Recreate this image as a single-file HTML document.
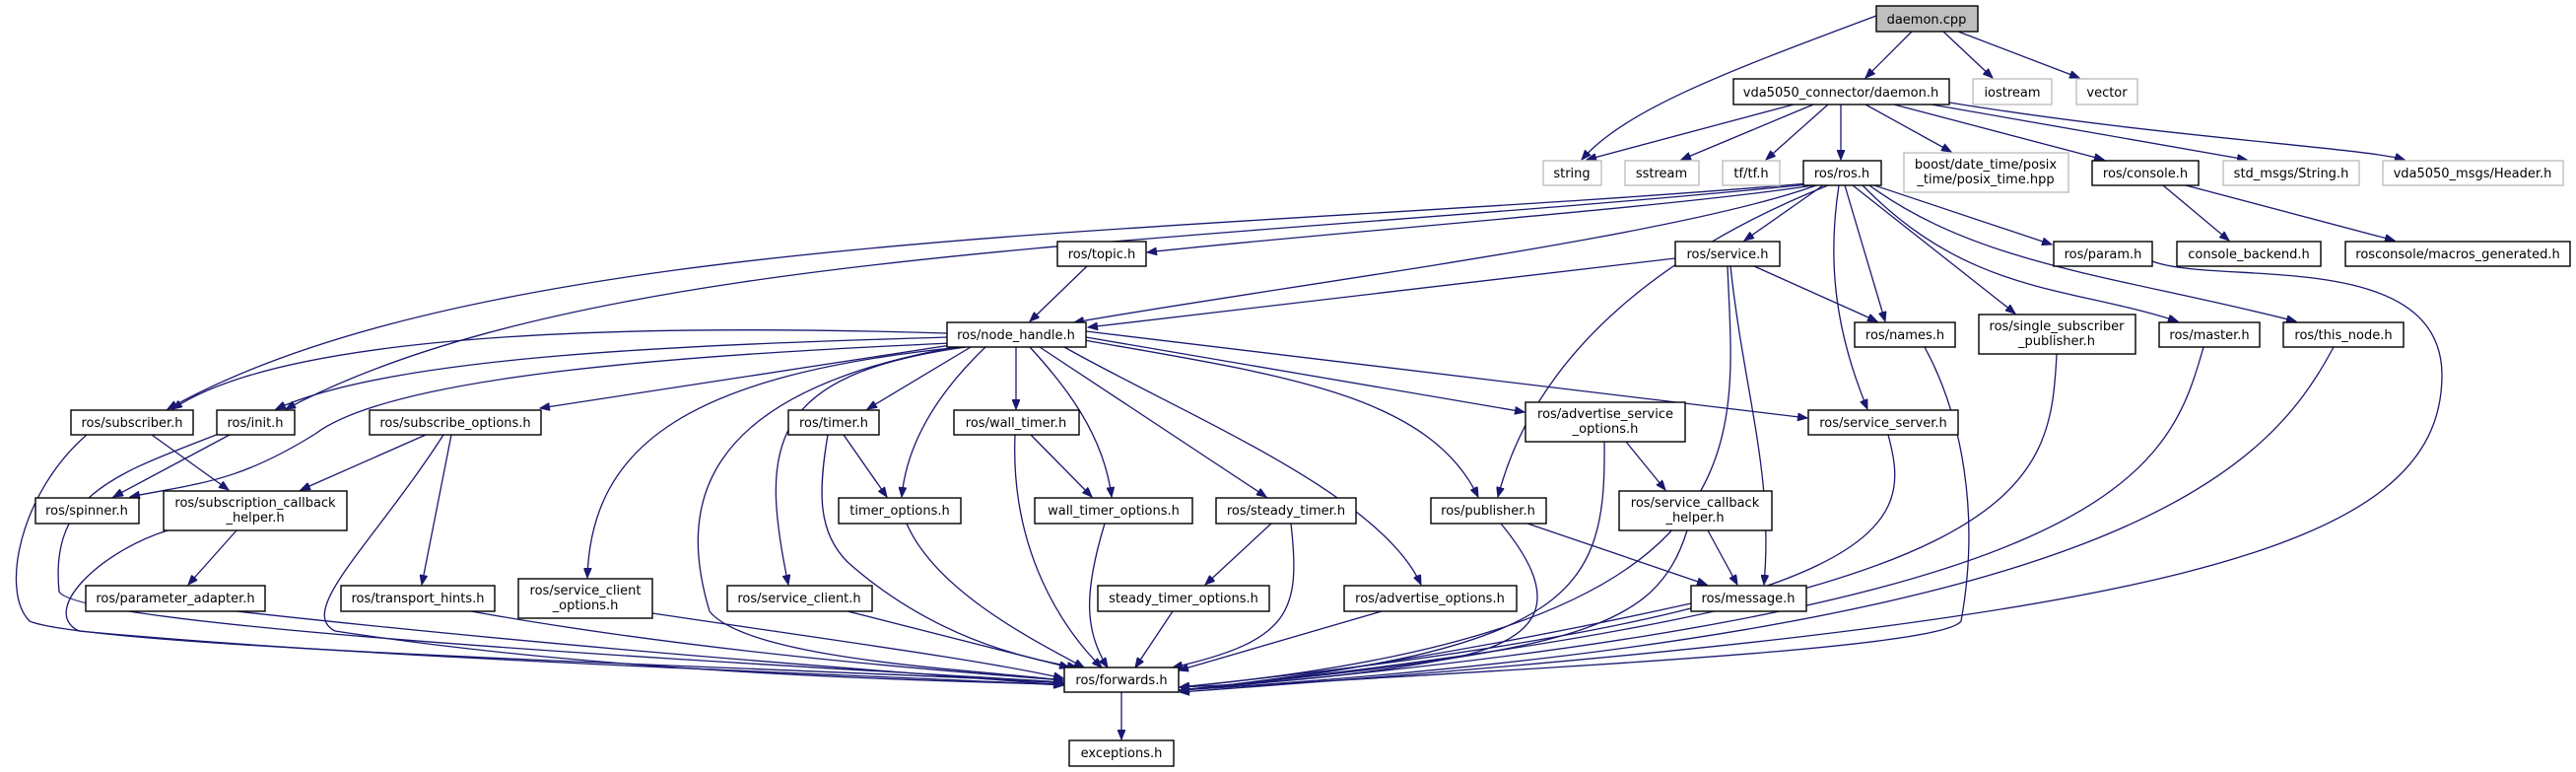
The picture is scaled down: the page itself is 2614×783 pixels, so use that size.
<!DOCTYPE html>
<html><head><meta charset="utf-8"><style>
html,body{margin:0;padding:0;background:#fff;width:2614px;height:783px;overflow:hidden}
svg{display:block}
text{font-family:"DejaVu Sans","Liberation Sans",sans-serif;font-size:13px;text-anchor:middle;fill:#000}
.e{fill:none;stroke:#191970;stroke-width:1.3;marker-end:url(#a)}
.n{fill:#fff;stroke:#000;stroke-width:1.4}
.g{fill:#fff;stroke:#bfbfbf;stroke-width:1.4}
</style></head><body>
<svg width="2614" height="783" viewBox="0 0 2614 783" xmlns="http://www.w3.org/2000/svg">
<defs><marker id="a" markerUnits="userSpaceOnUse" markerWidth="11" markerHeight="8" refX="10" refY="4" orient="auto"><path d="M0,0 L10,4 L0,8 z" fill="#191970" stroke="#191970"/></marker></defs>
<g>
<path class="e" d="M1904,16 C1760,70 1650,110 1605,162"/>
<path class="e" d="M1940,32 L1893,79"/>
<path class="e" d="M1972,32 L2022,79"/>
<path class="e" d="M1987,32 L2110,79"/>
<path class="e" d="M1820,106 L1610,162"/>
<path class="e" d="M1840,106 L1706,162"/>
<path class="e" d="M1855,106 L1792,162"/>
<path class="e" d="M1868,106 L1868,162"/>
<path class="e" d="M1893,106 L1980,154"/>
<path class="e" d="M1922,106 L2135,162"/>
<path class="e" d="M1960,106 L2280,162"/>
<path class="e" d="M1978,104 C2200,140 2400,150 2440,162"/>
<path class="e" d="M1840,188 C1700,210 1300,240 1164,256"/>
<path class="e" d="M1843,188 C1700,240 1300,290 1090,327"/>
<path class="e" d="M1850,188 L1770,244"/>
<path class="e" d="M1835,186 C1200,240 500,230 170,415"/>
<path class="e" d="M1836,187 C1200,250 600,250 290,415"/>
<path class="e" d="M1855,188 C1700,250 1560,350 1520,504"/>
<path class="e" d="M1872,188 L1913,326"/>
<path class="e" d="M1880,188 L2045,318"/>
<path class="e" d="M1890,188 C2000,300 2100,290 2210,326"/>
<path class="e" d="M1897,188 C2010,270 2150,280 2330,326"/>
<path class="e" d="M1902,188 L2082,248"/>
<path class="e" d="M1866,188 C1855,260 1860,330 1895,415"/>
<path class="e" d="M1700,262 L1104,332"/>
<path class="e" d="M1780,270 L1905,326"/>
<path class="e" d="M1756,270 C1770,400 1800,480 1790,593"/>
<path class="e" d="M1753,270 C1760,450 1800,640 1197,697"/>
<path class="e" d="M1103,270 L1045,326"/>
<path class="e" d="M2195,188 L2262,244"/>
<path class="e" d="M2218,188 L2430,244"/>
<path class="e" d="M2184,265 C2250,290 2477,250 2478,380 C2478,560 2200,630 1197,702"/>
<path class="e" d="M1953,352 C1990,420 2010,520 1990,630 C1970,660 1500,680 1197,700"/>
<path class="e" d="M2087,359 C2080,500 2060,610 1197,700"/>
<path class="e" d="M2236,352 C2200,480 2150,620 1197,700"/>
<path class="e" d="M2368,352 C2300,480 2150,640 1197,700"/>
<path class="e" d="M1916,441 C1940,530 1940,620 1197,697"/>
<path class="e" d="M961,338 C700,330 300,330 175,415"/>
<path class="e" d="M962,342 C700,350 400,360 280,415"/>
<path class="e" d="M965,348 C700,360 400,380 320,440 C240,490 200,490 132,504"/>
<path class="e" d="M965,350 L548,414"/>
<path class="e" d="M985,352 L880,415"/>
<path class="e" d="M1031,352 L1031,415"/>
<path class="e" d="M1045,352 C1080,390 1120,440 1128,504"/>
<path class="e" d="M1000,352 C950,400 920,450 915,504"/>
<path class="e" d="M1055,352 L1285,504"/>
<path class="e" d="M975,352 C700,380 600,450 596,586"/>
<path class="e" d="M980,352 C780,380 770,450 800,593"/>
<path class="e" d="M970,352 C700,400 690,520 720,620 C760,670 1000,680 1079,690"/>
<path class="e" d="M1080,352 C1200,420 1400,500 1442,593"/>
<path class="e" d="M1100,345 C1300,380 1450,400 1500,504"/>
<path class="e" d="M1102,342 L1547,418"/>
<path class="e" d="M1102,336 L1834,424"/>
<path class="e" d="M154,441 L232,497"/>
<path class="e" d="M88,441 C20,500 0,600 30,630 C100,660 900,680 1079,693"/>
<path class="e" d="M233,441 L115,504"/>
<path class="e" d="M222,440 C120,480 50,500 60,600 C80,640 900,680 1079,692"/>
<path class="e" d="M432,441 L305,497"/>
<path class="e" d="M458,441 L428,593"/>
<path class="e" d="M450,441 C380,550 300,620 340,640 C600,680 900,690 1079,694"/>
<path class="e" d="M240,538 L191,593"/>
<path class="e" d="M170,538 C100,560 40,620 80,640 C400,670 900,685 1079,695"/>
<path class="e" d="M240,620 C600,660 900,680 1079,695"/>
<path class="e" d="M478,620 C700,660 950,680 1079,690"/>
<path class="e" d="M662,622 C850,650 1000,670 1079,688"/>
<path class="e" d="M860,620 L1085,677"/>
<path class="e" d="M856,441 L900,504"/>
<path class="e" d="M840,441 C830,500 830,540 860,570 C950,650 1050,670 1093,677"/>
<path class="e" d="M920,531 C950,600 1050,650 1100,677"/>
<path class="e" d="M1030,441 C1025,560 1080,640 1118,677"/>
<path class="e" d="M1046,441 L1108,504"/>
<path class="e" d="M1121,531 C1100,600 1100,640 1124,677"/>
<path class="e" d="M1290,531 L1223,593"/>
<path class="e" d="M1310,531 C1320,620 1310,650 1190,677"/>
<path class="e" d="M1190,620 L1152,677"/>
<path class="e" d="M1402,620 L1196,680"/>
<path class="e" d="M1523,531 C1580,600 1580,650 1460,670 C1350,690 1250,695 1197,697"/>
<path class="e" d="M1550,531 L1732,593"/>
<path class="e" d="M1650,448 L1690,497"/>
<path class="e" d="M1628,448 C1630,600 1600,660 1197,700"/>
<path class="e" d="M1733,538 L1763,593"/>
<path class="e" d="M1712,538 C1680,640 1600,660 1197,700"/>
<path class="e" d="M1716,612 C1500,660 1300,690 1197,700"/>
<path class="e" d="M1138,702 L1138,750"/>
</g>
<g>
<rect x="1904" y="6" width="103" height="26" fill="#bfbfbf" stroke="#000" stroke-width="1.4"/><text x="1955" y="24">daemon.cpp</text>
<rect class="n" x="1759" y="80" width="219" height="26"/><text x="1868" y="98">vda5050_connector/daemon.h</text>
<rect class="g" x="2002" y="80" width="80" height="26"/><text x="2042" y="98">iostream</text>
<rect class="g" x="2107" y="80" width="62" height="26"/><text x="2138" y="98">vector</text>
<rect class="g" x="1566" y="163" width="59" height="25"/><text x="1595" y="180">string</text>
<rect class="g" x="1649" y="163" width="75" height="25"/><text x="1686" y="180">sstream</text>
<rect class="g" x="1748" y="163" width="58" height="25"/><text x="1777" y="180">tf/tf.h</text>
<rect class="n" x="1830" y="163" width="79" height="25"/><text x="1869" y="180">ros/ros.h</text>
<rect class="g" x="1932" y="155" width="167" height="40"/><text x="2015" y="171">boost/date_time/posix</text><text x="2015" y="186">_time/posix_time.hpp</text>
<rect class="n" x="2123" y="163" width="108" height="25"/><text x="2177" y="180">ros/console.h</text>
<rect class="g" x="2256" y="163" width="138" height="25"/><text x="2325" y="180">std_msgs/String.h</text>
<rect class="g" x="2418" y="163" width="183" height="25"/><text x="2509" y="180">vda5050_msgs/Header.h</text>
<rect class="n" x="1073" y="245" width="90" height="25"/><text x="1118" y="262">ros/topic.h</text>
<rect class="n" x="1700" y="245" width="106" height="25"/><text x="1753" y="262">ros/service.h</text>
<rect class="n" x="2084" y="245" width="100" height="25"/><text x="2134" y="262">ros/param.h</text>
<rect class="n" x="2209" y="245" width="146" height="25"/><text x="2282" y="262">console_backend.h</text>
<rect class="n" x="2380" y="245" width="228" height="25"/><text x="2494" y="262">rosconsole/macros_generated.h</text>
<rect class="n" x="961" y="327" width="141" height="25"/><text x="1031" y="344">ros/node_handle.h</text>
<rect class="n" x="1882" y="327" width="102" height="25"/><text x="1933" y="344">ros/names.h</text>
<rect class="n" x="2008" y="319" width="159" height="40"/><text x="2087" y="335">ros/single_subscriber</text><text x="2087" y="350">_publisher.h</text>
<rect class="n" x="2191" y="327" width="102" height="25"/><text x="2242" y="344">ros/master.h</text>
<rect class="n" x="2317" y="327" width="122" height="25"/><text x="2378" y="344">ros/this_node.h</text>
<rect class="n" x="72" y="416" width="124" height="25"/><text x="134" y="433">ros/subscriber.h</text>
<rect class="n" x="220" y="416" width="79" height="25"/><text x="259" y="433">ros/init.h</text>
<rect class="n" x="375" y="416" width="174" height="25"/><text x="462" y="433">ros/subscribe_options.h</text>
<rect class="n" x="800" y="416" width="92" height="25"/><text x="846" y="433">ros/timer.h</text>
<rect class="n" x="968" y="416" width="127" height="25"/><text x="1031" y="433">ros/wall_timer.h</text>
<rect class="n" x="1548" y="408" width="162" height="40"/><text x="1629" y="424">ros/advertise_service</text><text x="1629" y="439">_options.h</text>
<rect class="n" x="1835" y="416" width="152" height="25"/><text x="1911" y="433">ros/service_server.h</text>
<rect class="n" x="36" y="505" width="105" height="26"/><text x="88" y="522">ros/spinner.h</text>
<rect class="n" x="166" y="498" width="186" height="40"/><text x="259" y="514">ros/subscription_callback</text><text x="259" y="529">_helper.h</text>
<rect class="n" x="851" y="505" width="124" height="26"/><text x="913" y="522">timer_options.h</text>
<rect class="n" x="1050" y="505" width="160" height="26"/><text x="1130" y="522">wall_timer_options.h</text>
<rect class="n" x="1234" y="505" width="142" height="26"/><text x="1305" y="522">ros/steady_timer.h</text>
<rect class="n" x="1452" y="505" width="117" height="26"/><text x="1510" y="522">ros/publisher.h</text>
<rect class="n" x="1643" y="498" width="155" height="40"/><text x="1720" y="514">ros/service_callback</text><text x="1720" y="529">_helper.h</text>
<rect class="n" x="87" y="594" width="182" height="26"/><text x="178" y="611">ros/parameter_adapter.h</text>
<rect class="n" x="346" y="594" width="156" height="26"/><text x="424" y="611">ros/transport_hints.h</text>
<rect class="n" x="526" y="587" width="136" height="40"/><text x="594" y="603">ros/service_client</text><text x="594" y="618">_options.h</text>
<rect class="n" x="738" y="594" width="147" height="26"/><text x="811" y="611">ros/service_client.h</text>
<rect class="n" x="1114" y="594" width="174" height="26"/><text x="1201" y="611">steady_timer_options.h</text>
<rect class="n" x="1364" y="594" width="175" height="26"/><text x="1451" y="611">ros/advertise_options.h</text>
<rect class="n" x="1716" y="594" width="117" height="26"/><text x="1774" y="611">ros/message.h</text>
<rect class="n" x="1080" y="677" width="116" height="25"/><text x="1138" y="694">ros/forwards.h</text>
<rect class="n" x="1085" y="751" width="106" height="26"/><text x="1138" y="768">exceptions.h</text>
</g>
</svg>
</body></html>
